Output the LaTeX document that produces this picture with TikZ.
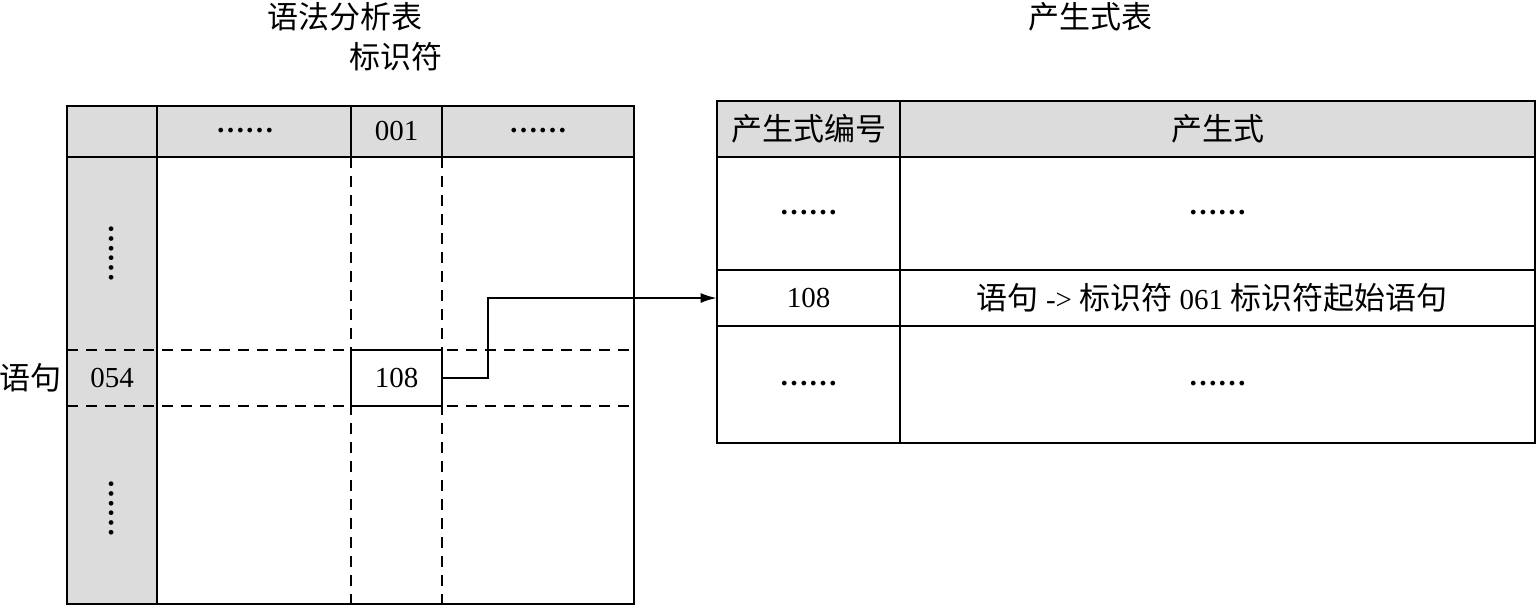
\documentclass[tikz,border=0pt]{standalone}
\usepackage{fontspec}
\setmainfont{Liberation Serif}
\newfontfamily\cjk{Noto Sans CJK SC}
\usetikzlibrary{arrows.meta}
\definecolor{hdr}{HTML}{DCDCDC}
\newcommand{\cj}[1]{{\fontsize{15.5}{17}\selectfont\cjk #1}}
\begin{document}
\begin{tikzpicture}[x=0.5pt,y=-0.5pt,
  txt/.style={inner sep=0pt,font=\fontsize{14.5}{16}\selectfont},
  dots/.style={inner sep=0pt,font=\fontsize{14.5}{16}\selectfont\bfseries},
  ctxt/.style={inner sep=0pt,font=\fontsize{15.5}{17}\selectfont\cjk},
  solidline/.style={line width=1.1pt},
  dashline/.style={line width=1.1pt,dash pattern=on 5.5pt off 4pt},
  arr/.style={line width=0.8pt,-{Latex[length=8pt,width=5pt]}}]
\useasboundingbox (0,0) rectangle (1537,607);
% ---------- left table ----------
\fill[hdr] (67,106) rectangle (634,157);
\fill[hdr] (67,157) rectangle (157,604);
\draw[dashline] (67,350) -- (634,350);
\draw[dashline] (67,406) -- (634,406);
\draw[dashline] (351,157) -- (351,604);
\draw[dashline] (442,157) -- (442,604);
\draw[solidline] (67,106) rectangle (634,604);
\draw[solidline] (67,157) -- (634,157);
\draw[solidline] (157,106) -- (157,604);
\draw[solidline] (351,106) -- (351,157);
\draw[solidline] (442,106) -- (442,157);
\node[draw,line width=1.1pt,minimum width=45.5pt,minimum height=28pt,inner sep=0pt,txt] (b108) at (396.5,378) {108};
\node[dots] (h1) at (245,131) {……};
\node[txt] (h001) at (396.5,131) {001};
\node[dots] (h3) at (538,131) {……};
\node[dots,rotate=90] (v1) at (112,253) {……};
\node[txt] (r054) at (112,378) {054};
\node[dots,rotate=90] (v2) at (112,508) {……};
\node[ctxt] (yuju) at (30,378) {语句};
\node[ctxt] (t1) at (345,17) {语法分析表};
\node[ctxt] (t2) at (396,57) {标识符};
% ---------- right table ----------
\fill[hdr] (717,101) rectangle (1535,157);
\draw[solidline] (717,101) rectangle (1535,443);
\draw[solidline] (717,157) -- (1535,157);
\draw[solidline] (717,270) -- (1535,270);
\draw[solidline] (717,326) -- (1535,326);
\draw[solidline] (900,101) -- (900,443);
\node[ctxt] (rh1) at (808.5,129) {产生式编号};
\node[ctxt] (rh2) at (1217.5,129) {产生式};
\node[dots] (ra1) at (808.5,213) {……};
\node[dots] (rb1) at (1217.5,213) {……};
\node[minimum width=91.5pt,minimum height=28pt,inner sep=0pt,txt] (p108) at (808.5,298) {108};
\node[txt] (rb2) at (1212,298) {\cj{语句} -> \cj{标识符} 061 \cj{标识符起始语句}};
\node[dots] (ra3) at (808.5,384) {……};
\node[dots] (rb3) at (1217.5,384) {……};
\node[ctxt] (t3) at (1090,17) {产生式表};
% ---------- arrow ----------
\draw[arr] (b108.east) -- ++(45,0) |- (p108.west);
\end{tikzpicture}
\end{document}
